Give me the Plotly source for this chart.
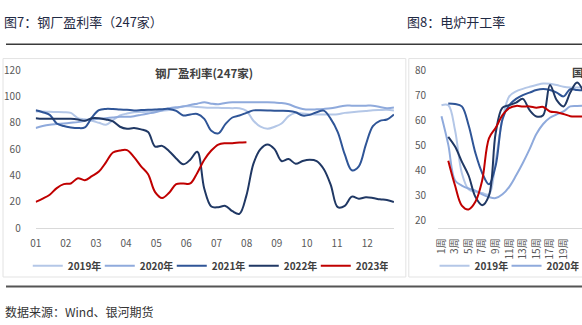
import plotly.graph_objects as go

W, H = 582, 325

# ---------------- data: 钢厂盈利率(247家), weekly ----------------
weeks = list(range(1, 53))
month_labels = ["01", "02", "03", "04", "05", "06", "07", "08", "09", "10", "11", "12"]

profit_2019 = [88.5, 88.5, 88.3, 88.2, 88.0, 87.5, 83.5, 82.7, 81.5, 80.0,
               78.5, 82.0, 85.5, 87.0, 88.0, 88.2, 88.5, 88.8, 89.2, 89.7,
               91.0, 92.5, 92.5, 92.0, 91.6, 91.4, 91.3, 91.2, 91.1, 91.0,
               89.0, 81.5, 77.0, 75.5, 77.0, 79.5, 85.0, 87.5, 87.0, 86.5,
               86.3, 86.2, 86.3, 86.5, 87.5, 88.0, 88.5, 89.0, 89.5, 89.7,
               89.8, 89.4]
profit_2020 = [76.0, 77.5, 78.5, 79.0, 79.5, 80.0, 80.5, 81.5, 82.5, 83.0,
               83.5, 84.0, 84.5, 84.5, 85.0, 86.0, 87.0, 88.0, 89.5, 91.0,
               91.8, 92.3, 93.5, 94.5, 95.5, 94.5, 94.0, 95.0, 95.5, 95.5,
               95.5, 95.5, 95.5, 95.5, 95.3, 95.0, 94.0, 92.0, 90.5, 90.0,
               90.2, 90.5, 91.0, 92.0, 93.0, 93.0, 93.0, 93.0, 93.0, 92.0,
               91.0, 91.5]
profit_2021 = [89.5, 88.0, 86.0, 79.5, 77.5, 76.5, 76.0, 76.5, 84.0, 89.5,
               90.5, 90.4, 90.0, 89.8, 89.4, 89.6, 89.9, 90.0, 90.3, 90.5,
               89.0, 85.5, 86.3, 86.7, 83.0, 74.0, 72.0, 79.0, 84.0, 85.5,
               87.5, 89.4, 89.5, 89.4, 89.2, 89.2, 89.0, 88.0, 85.5, 86.0,
               88.0, 89.2, 83.0, 73.0, 56.0, 44.0, 47.0, 63.5, 77.5, 81.5,
               82.5, 86.3]
profit_2022 = [83.5, 83.0, 83.0, 83.0, 83.0, 83.0, 82.5, 81.5, 83.5, 83.5,
               82.5, 81.0, 77.0, 75.5, 76.0, 75.0, 73.0, 62.0, 62.5, 58.5,
               53.0, 48.5, 52.0, 58.0, 30.0, 16.5, 16.0, 17.0, 13.0, 11.0,
               25.0, 49.0, 60.0, 63.5, 60.0, 51.0, 52.5, 49.0, 51.0, 52.0,
               51.0, 45.0, 33.0, 16.0, 17.0, 24.0, 22.5, 23.5, 23.0, 22.0,
               21.5, 20.0]
profit_2023 = [20.0, 22.5, 25.5, 30.5, 33.5, 34.0, 38.0, 36.5, 39.5, 43.0,
               50.0, 57.5, 59.0, 59.3, 54.0, 47.0, 41.0, 27.5, 23.0, 27.0,
               33.5, 34.0, 34.0, 42.0, 52.0, 59.0, 63.5, 64.5, 64.5, 65.0,
               65.3]

# ---------------- data: 电炉开工率, weekly (visible part) ----------------
eaf_weeks = list(range(1, 23))
eaf_tick_weeks = list(range(1, 22, 2))
eaf_tick_text = [f"{w}周" for w in eaf_tick_weeks]

eaf_2019 = [66.0, 66.0, 56.0, 39.0, 32.5, 31.5, 31.0, 30.5, 44.0, 60.5,
            69.5, 71.5, 72.5, 73.3, 74.0, 74.6, 74.5, 74.0, 73.3, 73.0,
            73.0, 73.0]
eaf_2020 = [61.6, 50.3, 36.0, 34.0, 32.8, 32.0, 30.5, 29.4, 29.0, 30.5,
            33.5, 38.0, 43.0, 48.5, 54.5, 58.5, 61.0, 62.3, 63.5, 65.5,
            65.7, 65.8]
eaf_2021 = [None, 66.7, 66.5, 65.5, 58.0, 47.0, 39.0, 34.5, 42.0, 60.4,
            66.0, 68.5, 70.0, 71.0, 72.0, 72.4, 72.0, 71.0, 69.5, 72.4,
            72.0, 72.0]
eaf_2022 = [None, 53.4, 49.5, 43.5, 38.0, 29.5, 26.2, 30.0, 55.0, 65.0,
            66.0, 67.0, 68.5, 64.0, 61.5, 62.0, 74.0, 68.0, 65.5, 71.0,
            75.0, 71.0]
eaf_2023 = [None, 43.9, 34.0, 26.0, 24.5, 27.5, 36.0, 52.8, 57.0, 62.0,
            64.8, 65.7, 65.5, 65.5, 65.0, 65.3, 63.5, 63.2, 62.5, 61.6,
            61.5, 61.5]

year_names = ["2019年", "2020年", "2021年", "2022年", "2023年"]
colors = ["#b4c7e7", "#8faadc", "#2f5597", "#203864", "#c00000"]

FONT = "Noto Sans CJK SC, Noto Sans, sans-serif"

fig = go.Figure()

left_series = [profit_2019, profit_2020, profit_2021, profit_2022, profit_2023]
for name, col, ys in zip(year_names, colors, left_series):
    fig.add_trace(go.Scatter(
        x=weeks[:len(ys)], y=ys, name=name, mode="lines",
        line=dict(color=col, width=2, shape="spline", smoothing=1.0),
        xaxis="x", yaxis="y", legend="legend", hoverinfo="skip"))

right_series = [eaf_2019, eaf_2020, eaf_2021, eaf_2022, eaf_2023]
for i, (name, col, ys) in enumerate(zip(year_names, colors, right_series)):
    fig.add_trace(go.Scatter(
        x=eaf_weeks, y=ys, name=name, mode="lines",
        line=dict(color=col, width=2, shape="spline", smoothing=1.0),
        xaxis="x2", yaxis="y2", legend="legend2", showlegend=(i < 2),
        hoverinfo="skip"))

def px_x(p):
    return p / W

def px_y(p):
    return (H - p) / H

tick_font = dict(family=FONT, size=10, color="#595959")

fig.update_layout(
    width=W, height=H,
    margin=dict(l=0, r=0, t=0, b=0),
    paper_bgcolor="white", plot_bgcolor="white",
    font=dict(family=FONT),
    xaxis=dict(domain=[px_x(30), px_x(392)], range=[1, 52],
               tickvals=[1 + (m - 1) * 4.29 for m in range(1, 13)],
               ticktext=month_labels, showgrid=False, zeroline=False,
               showline=True, linecolor="#d9d9d9", linewidth=1,
               ticks="", tickfont=tick_font, ticklabelstandoff=6),
    yaxis=dict(domain=[px_y(231), px_y(65)], range=[0, 120],
               tickvals=[0, 20, 40, 60, 80, 100, 120], showgrid=False,
               zeroline=False, showline=False, ticks="", tickfont=tick_font,
               ticklabelstandoff=14),
    xaxis2=dict(domain=[px_x(436.6), 1.0], range=[0.5, 21.73],
                tickvals=eaf_tick_weeks, ticktext=eaf_tick_text, tickangle=-90,
                showgrid=False, zeroline=False, showline=True,
                linecolor="#d9d9d9", linewidth=1, ticks="", tickfont=tick_font,
                ticklabelstandoff=5),
    yaxis2=dict(domain=[px_y(223), px_y(65)], range=[20, 80],
                tickvals=[20, 30, 40, 50, 60, 70, 80], showgrid=False,
                zeroline=False, showline=False, ticks="", tickfont=tick_font,
                ticklabelstandoff=11, anchor="x2"),
    legend=dict(orientation="h", x=px_x(22), xanchor="left",
                y=px_y(255), yanchor="top", bgcolor="rgba(0,0,0,0)",
                font=dict(family=FONT, size=10, color="#404040", weight="bold"),
                itemwidth=30, entrywidth=27, entrywidthmode="pixels",
                traceorder="normal"),
    legend2=dict(orientation="h", x=px_x(433), xanchor="left",
                 y=px_y(255), yanchor="top", bgcolor="rgba(0,0,0,0)",
                 font=dict(family=FONT, size=10, color="#404040", weight="bold"),
                 itemwidth=30, entrywidth=27, entrywidthmode="pixels",
                 traceorder="normal"),
)

shapes = [
    # top rule
    dict(type="line", xref="paper", yref="paper", x0=0, x1=1,
         y0=px_y(38), y1=px_y(38), line=dict(color="#3a3a3a", width=1.5)),
    # bottom rule
    dict(type="line", xref="paper", yref="paper", x0=0, x1=1,
         y0=px_y(292), y1=px_y(292), line=dict(color="#555555", width=2)),
    # chart boxes
    dict(type="rect", xref="paper", yref="paper", x0=px_x(-3), x1=px_x(404),
         y0=px_y(282), y1=px_y(53), line=dict(color="#e3e3e3", width=1)),
    dict(type="rect", xref="paper", yref="paper", x0=px_x(407), x1=px_x(600),
         y0=px_y(282), y1=px_y(53), line=dict(color="#e3e3e3", width=1)),
]
fig.update_layout(shapes=shapes)

annotations = [
    dict(text="图7：钢厂盈利率（247家）", x=px_x(-4), y=px_y(14),
         xanchor="left", yanchor="middle",
         font=dict(family=FONT, size=13, color="#1f2a44")),
    dict(text="图8：电炉开工率", x=px_x(403), y=px_y(14),
         xanchor="left", yanchor="middle",
         font=dict(family=FONT, size=13, color="#1f2a44")),
    dict(text="数据来源：Wind、银河期货", x=px_x(-3), y=px_y(318),
         xanchor="left", yanchor="middle",
         font=dict(family=FONT, size=12, color="#333333")),
    dict(text="钢厂盈利率(247家)", x=px_x(200), y=px_y(68),
         xanchor="center", yanchor="middle",
         font=dict(family=FONT, size=11.5, color="#404040", weight="bold")),
    dict(text="国", x=px_x(570), y=px_y(67),
         xanchor="left", yanchor="middle",
         font=dict(family=FONT, size=11.5, color="#404040", weight="bold")),
]
for a in annotations:
    a.update(xref="paper", yref="paper", showarrow=False)
fig.update_layout(annotations=annotations)

fig.write_html("out.html", config={"displayModeBar": False})
